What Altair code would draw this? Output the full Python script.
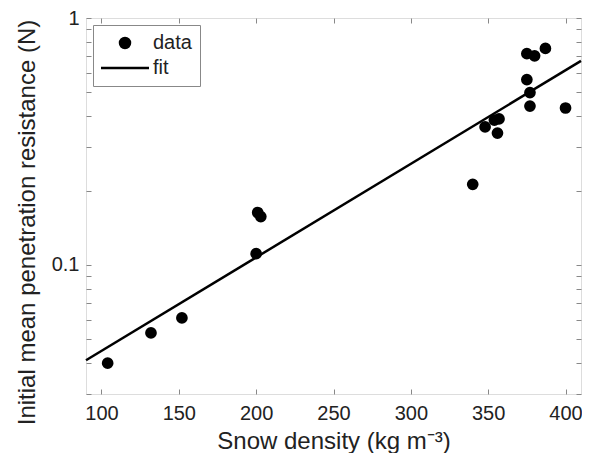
import altair as alt
import pandas as pd

# data
density = [104, 132, 152, 200, 201, 203, 340, 348, 354, 357, 356, 375, 380, 387, 375, 377, 377, 400]
resistance = [0.040, 0.053, 0.061, 0.111, 0.163, 0.157, 0.212, 0.362, 0.386, 0.390, 0.342,
              0.717, 0.703, 0.753, 0.563, 0.499, 0.440, 0.432]
fit_x = [90, 410]
fit_y = [0.0411, 0.67]

x_ticks = [100, 150, 200, 250, 300, 350, 400]
y_major = [0.1, 1]
y_all = [0.03, 0.04, 0.05, 0.06, 0.07, 0.08, 0.09, 0.1, 0.2, 0.3, 0.4, 0.5, 0.6, 0.7, 0.8, 0.9, 1]
series = ["data", "fit"]

pts = pd.DataFrame({"x": density, "y": resistance, "series": "data"})
fit = pd.DataFrame({"x": fit_x, "y": fit_y, "series": "fit"})

FONT = "Liberation Sans"
GRAY = "#888888"
TXT = "#222222"

xs = alt.Scale(domain=[90, 410], nice=False, zero=False)
ys = alt.Scale(type="log", domain=[0.03, 1], nice=False)
cscale = alt.Scale(domain=series, range=["black", "black"])

legend = alt.Legend(title=None, orient="top-left", offset=7, strokeColor=GRAY,
                    padding=8, labelFontSize=20, labelFont=FONT, labelColor=TXT,
                    symbolStrokeColor="black", symbolStrokeWidth=2.5, rowPadding=5,
                    symbolOffset=14, labelOffset=18)

tick_axis = dict(labels=False, title=None, domain=False, grid=False, ticks=True,
                 tickSize=5, tickColor=GRAY, offset=-5)

points = alt.Chart(pts).mark_point(filled=True, stroke="black", strokeWidth=2.5, opacity=1, size=85).encode(
    x=alt.X("x:Q", scale=xs, axis=alt.Axis(orient="bottom", values=x_ticks, ticks=False, domain=False,
                                          grid=False, labelFontSize=20, labelFont=FONT, labelColor=TXT,
                                          labelPadding=9, title="Snow density (kg m⁻³)", titleFontSize=24,
                                          titleFont=FONT, titleColor=TXT, titleFontWeight="normal",
                                          titlePadding=6)),
    y=alt.Y("y:Q", scale=ys, axis=alt.Axis(orient="left", values=y_major, format="~g", ticks=False,
                                          domain=False, grid=False, labelFontSize=20, labelFont=FONT,
                                          labelColor=TXT, labelPadding=7,
                                          title="Initial mean penetration resistance (N)",
                                          titleFontSize=24, titleFont=FONT, titleColor=TXT,
                                          titleFontWeight="normal", titlePadding=12, titleY=204)),
    color=alt.Color("series:N", scale=cscale, legend=legend),
    shape=alt.Shape("series:N", scale=alt.Scale(domain=series, range=["circle", "M-4.8,0H4.8"]),
                    legend=legend),
)

line = alt.Chart(fit).mark_line(strokeWidth=2.5).encode(
    x=alt.X("x:Q", scale=xs, axis=alt.Axis(orient="top", values=x_ticks, **tick_axis)),
    y=alt.Y("y:Q", scale=ys, axis=alt.Axis(orient="right", values=y_all, **tick_axis)),
    color=alt.Color("series:N", scale=cscale, legend=legend),
)

ghost = alt.Chart(fit).mark_line(opacity=0).encode(
    x=alt.X("x:Q", scale=xs, axis=alt.Axis(orient="bottom", values=x_ticks, **tick_axis)),
    y=alt.Y("y:Q", scale=ys, axis=alt.Axis(orient="left", values=y_all, **tick_axis)),
    color=alt.Color("series:N", scale=cscale, legend=legend),
)

chart = alt.layer(line, points, ghost).resolve_axis(x="independent", y="independent").properties(
    width=495, height=376, autosize=alt.AutoSizeParams(type="none"),
    padding={"left": 78, "top": 10, "right": 1, "bottom": 59},
).configure_view(stroke=GRAY, strokeWidth=1.2).configure(background="white")

chart.save("out.html", embed_options={"renderer": "svg", "actions": False})
